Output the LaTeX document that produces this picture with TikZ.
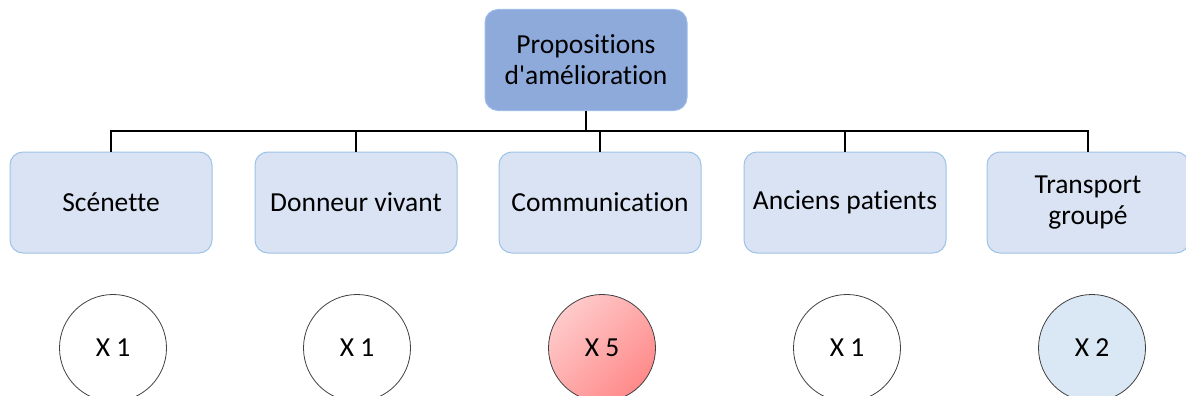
\documentclass[tikz,border=0pt]{standalone}
\usepackage{fontspec}
\setmainfont{Carlito}[Ligatures={TeXOff,NoCommon}]
\definecolor{topfill}{HTML}{8EAADB}
\definecolor{topdraw}{HTML}{9DBDE8}
\definecolor{boxfill}{HTML}{DAE3F3}
\definecolor{boxdraw}{HTML}{9DC3E6}
\definecolor{bluecirc}{HTML}{DAE8F5}
\definecolor{pinklight}{HTML}{FFCACA}
\definecolor{pinkdark}{HTML}{FF8A8A}
\begin{document}
\begin{tikzpicture}[x=1pt,y=-1pt,
  topbox/.style={draw=topdraw,fill=topfill,line width=1pt,rounded corners=13pt,minimum width=202pt,minimum height=101pt,align=center,font=\fontsize{27.5}{31}\selectfont,inner sep=0pt},
  childbox/.style={draw=boxdraw,fill=boxfill,line width=1pt,rounded corners=13pt,minimum width=202pt,minimum height=101pt,align=center,font=\fontsize{27.5}{31}\selectfont,inner sep=0pt},
  countcirc/.style={circle,draw=black!75,line width=0.8pt,minimum size=107pt,inner sep=0pt,font=\fontsize{27.5}{31}\selectfont},
  conn/.style={draw=black,line width=2pt}]
\useasboundingbox (0,0) rectangle (1186,396);
\node[topbox] (top) at (586,60) {Propositions\\d'amélioration};
\node[childbox] (c1) at (111,202.5) {Scénette};
\node[childbox] (c2) at (356,202.5) {Donneur vivant};
\node[childbox] (c3) at (600,202.5) {Communication};
\node[childbox] (c4) at (845,202.5) {Anciens patients};
\node[childbox] (c5) at (1088,202.5) {Transport\\groupé};
\coordinate (bus) at (586,131);
\draw[conn,line width=2.5pt] (top.south) -- (top.south |- bus);
\draw[conn] (c1.north) -- (c1.north |- bus) -- (c5.north |- bus) -- (c5.north);
\draw[conn] (c2.north) -- (c2.north |- bus);
\draw[conn] (c3.north) -- (c3.north |- bus);
\draw[conn] (c4.north) -- (c4.north |- bus);
\node[countcirc,fill=white] (n1) at (113,348) {X 1};
\node[countcirc,fill=white] (n2) at (357,348) {X 1};
\node[countcirc,top color=pinklight,bottom color=pinkdark,shading angle=45] (n3) at (602,348) {X 5};
\node[countcirc,fill=white] (n4) at (847,348) {X 1};
\node[countcirc,fill=bluecirc] (n5) at (1092,348) {X 2};
\end{tikzpicture}
\end{document}
